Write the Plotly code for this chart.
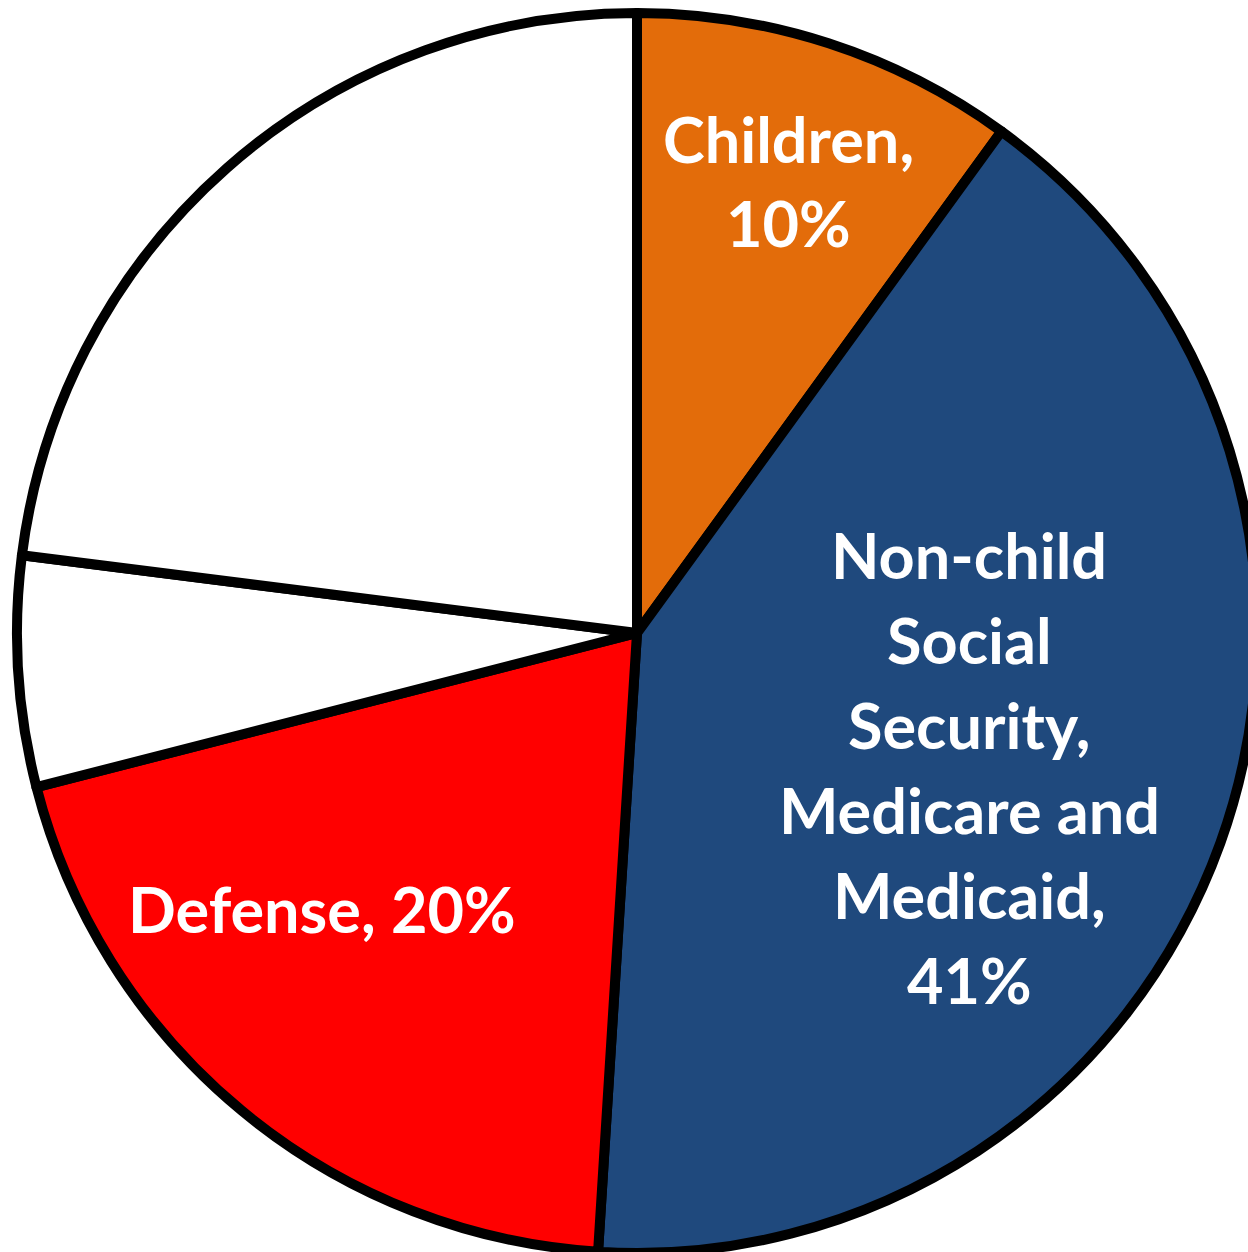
import plotly.graph_objects as go

# Share of federal spending by category
categories = ["Children", "Non-child Social Security, Medicare and Medicaid", "Defense", "Net interest", "All other"]
shares = [10, 41, 20, 6, 23]
slice_colors = ["#E36C0A", "#1F497D", "#FF0000", "#FFFFFF", "#FFFFFF"]

# Label text broken into lines (the percentage is appended from the share)
label_lines = [
    ["Children,"],
    ["Non-child", "Social", "Security,", "Medicare and", "Medicaid,"],
    ["Defense, "],
    None,
    None,
]

W, H = 1274, 1266
cx, cy, r = 637, 633, 620

fig = go.Figure(go.Pie(
    labels=categories,
    values=shares,
    sort=False,
    direction="clockwise",
    rotation=0,
    marker=dict(colors=slice_colors, line=dict(color="black", width=10)),
    textinfo="none",
    hoverinfo="skip",
    showlegend=False,
    domain=dict(x=[0, 1], y=[(cy - r) / H, (cy + r) / H]),
))

# Label placement (pixel centre of first line, line pitch)
label_anchor = [(788, 138), (969, 554), (322, 908), None, None]
pitch = 85
font = dict(family="Lato", size=63, color="white")

annotations = []
for lines, anchor, val in zip(label_lines, label_anchor, shares):
    if lines is None:
        continue
    pct = f"{val}%"
    if len(lines) == 1 and lines[0].endswith(" "):
        rows = [lines[0] + pct]
    else:
        rows = lines + [pct]
    ax, ay = anchor
    for i, row in enumerate(rows):
        annotations.append(dict(
            x=ax / W, y=1 - (ay + i * pitch) / H, xref="paper", yref="paper",
            text=f"<b>{row}</b>", showarrow=False, font=font,
            xanchor="center", yanchor="middle",
        ))

fig.update_layout(
    width=W, height=H,
    margin=dict(l=0, r=0, t=0, b=0),
    paper_bgcolor="white", plot_bgcolor="white",
    annotations=annotations,
)

fig.write_html(
    "out.html",
    config={"displayModeBar": False},
    post_script="document.body.style.margin='0';document.body.style.overflow='hidden';document.documentElement.style.overflow='hidden';",
)
